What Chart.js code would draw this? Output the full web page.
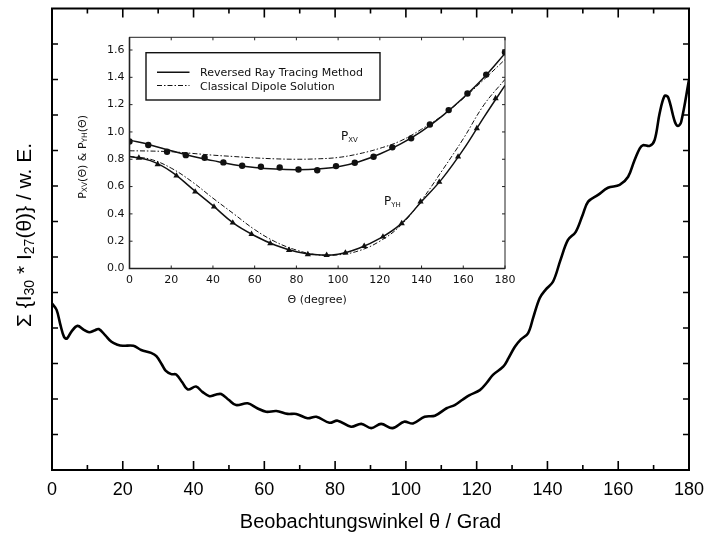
<!DOCTYPE html>
<html><head><meta charset="utf-8">
<script src="https://cdn.jsdelivr.net/npm/chart.js@4.4.0/dist/chart.umd.min.js"></script>
<style>
html,body{margin:0;padding:0;background:#fff;}
#wrap{position:relative;width:704px;height:537px;overflow:hidden;}
canvas{position:absolute;}
#main{left:0;top:0;}
#inset{left:70px;top:30px;}
</style>
</head><body>
<div id="wrap"><canvas id="main" width="704" height="537"></canvas><canvas id="inset" width="460" height="285"></canvas></div>
<script>
// ---------- main chart data ----------
const mainTheta = [0,1.3,2.4,3.4,4.2,5.5,7.2,9,10.5,12,13.2,15,16.8,18.5,20,23,25.2,28,29.5,31,32.1,33.7,35.1,36.8,38.4,40.7,42.5,44.5,46.2,47.8,50,52,55.3,58,60.5,63.4,66.6,69,72.2,74.7,78.4,80.7,84.5,87.4,90.2,93,96.2,99.5,102,105.3,108.2,111.5,113.8,116,118,120.9,122.8,124.6,127.5,129,130.8,132.5,134.5,136,137.8,139.5,141.6,143.7,145.8,148,150,151.5,154.3,157.1,160.4,162.8,164.5,166.1,167,168.9,170.3,171.7,173.1,174.1,176,176.9,177.8,180];
const mainSignal = [4.69,4.51,4.08,3.75,3.70,3.90,4.06,3.95,3.88,3.93,3.97,3.80,3.61,3.53,3.50,3.50,3.38,3.30,3.21,2.98,2.80,2.70,2.69,2.47,2.27,2.35,2.20,2.08,2.12,2.14,1.97,1.83,1.88,1.74,1.64,1.66,1.58,1.58,1.46,1.50,1.33,1.39,1.22,1.30,1.18,1.30,1.18,1.36,1.31,1.50,1.53,1.74,1.83,1.98,2.11,2.25,2.45,2.68,2.91,3.15,3.47,3.68,3.85,4.30,4.84,5.08,5.31,5.92,6.48,6.71,7.20,7.56,7.75,7.95,8.03,8.26,8.70,9.06,9.15,9.13,9.30,10.05,10.54,10.50,9.81,9.69,9.81,10.99];
const mainXTicks = [0,20,40,60,80,100,120,140,160,180];
const mainYTicks = [1,2,3,4,5,6,7,8,9,10,11,12];

// ---------- inset data ----------
const insetTheta = [0,10,20,30,40,50,60,70,80,90,100,110,120,130,140,150,160,170,180];
const pxvRayTracing = [0.94,0.905,0.862,0.822,0.79,0.76,0.74,0.728,0.724,0.728,0.745,0.782,0.838,0.912,1.005,1.118,1.25,1.40,1.575];
const pxvDipole     = [0.862,0.86,0.855,0.843,0.83,0.82,0.81,0.803,0.80,0.803,0.813,0.84,0.88,0.935,1.02,1.12,1.245,1.385,1.53];
const pyhRayTracing = [0.82,0.79,0.71,0.585,0.46,0.33,0.24,0.17,0.123,0.10,0.105,0.148,0.22,0.325,0.49,0.66,0.87,1.11,1.34];
const pyhDipole     = [0.82,0.80,0.735,0.635,0.515,0.40,0.285,0.195,0.135,0.10,0.10,0.13,0.20,0.315,0.50,0.72,0.95,1.20,1.385];
const pxvMarkTheta = [0,9,18,27,36,45,54,63,72,81,90,99,108,117,126,135,144,153,162,171,180];
const pxvMarks = [0.93,0.904,0.855,0.83,0.811,0.777,0.752,0.745,0.74,0.725,0.72,0.75,0.774,0.818,0.887,0.953,1.055,1.16,1.282,1.42,1.583];
const pyhMarkTheta = [4.5,13.5,22.5,31.5,40.5,49.5,58.5,67.5,76.5,85.5,94.5,103.5,112.5,121.5,130.5,139.5,148.5,157.5,166.5,175.5];
const pyhMarks = [0.81,0.762,0.679,0.562,0.452,0.335,0.252,0.183,0.134,0.103,0.098,0.115,0.164,0.232,0.33,0.489,0.633,0.818,1.026,1.246];
const insetXTicks = [0,20,40,60,80,100,120,140,160,180];
const insetYTicks = [0,0.2,0.4,0.6,0.8,1.0,1.2,1.4,1.6];
const legendLabels = ['Reversed Ray Tracing Method','Classical Dipole Solution'];

const pts = (xs, ys) => xs.map((x, i) => ({x: x, y: ys[i]}));

function drawPieces(ctx, pieces, x, y, align) {
  let total = 0;
  pieces.forEach(p => { ctx.font = p[1]; total += ctx.measureText(p[0]).width; });
  let cx = align === 'center' ? x - total / 2 : x;
  pieces.forEach(p => { ctx.font = p[1]; ctx.fillText(p[0], cx, y + p[2]); cx += ctx.measureText(p[0]).width; });
}

// ---------- main chart ----------
const mainDecor = {
  id: 'mainDecor',
  afterDraw(chart) {
    const ctx = chart.ctx, xs = chart.scales.x, ys = chart.scales.y;
    const {left, right, top, bottom} = chart.chartArea;
    ctx.save();
    ctx.strokeStyle = '#000';
    ctx.lineWidth = 1.6;
    ctx.beginPath();
    for (let t = 10; t < 180; t += 10) {
      const x = xs.getPixelForValue(t);
      const len = (t % 20 === 0) ? 9 : 5;
      ctx.moveTo(x, bottom); ctx.lineTo(x, bottom - len);
      ctx.moveTo(x, top); ctx.lineTo(x, top + len);
    }
    mainYTicks.forEach(v => {
      const y = ys.getPixelForValue(v);
      ctx.moveTo(left, y); ctx.lineTo(left + 6, y);
      ctx.moveTo(right, y); ctx.lineTo(right - 6, y);
    });
    ctx.stroke();
    ctx.lineWidth = 2;
    ctx.strokeRect(left, top, right - left, bottom - top);
    ctx.translate(25, 235);
    ctx.rotate(-Math.PI / 2);
    ctx.fillStyle = '#000';
    ctx.textBaseline = 'middle';
    const big = '21px "Liberation Sans", Arial, sans-serif';
    const sub = '14px "Liberation Sans", Arial, sans-serif';
    drawPieces(ctx, [['\u03A3 {I', big, 0], ['30', sub, 5], [' * I', big, 0], ['27', sub, 5], ['(\u03B8)} / w. E.', big, 0]], 0, 0, 'center');
    ctx.restore();
  }
};

new Chart(document.getElementById('main'), {
  type: 'line',
  data: { datasets: [{
    data: pts(mainTheta, mainSignal),
    borderColor: '#000', borderWidth: 2.6, pointRadius: 0, tension: 0.35, fill: false
  }]},
  options: {
    responsive: false, animation: false, devicePixelRatio: 1,
    layout: { padding: { top: 8.5, right: 15, left: 0, bottom: 0 } },
    plugins: { legend: { display: false }, tooltip: { enabled: false } },
    scales: {
      x: {
        type: 'linear', min: 0, max: 180,
        afterBuildTicks: s => { s.ticks = mainXTicks.map(v => ({value: v})); },
        ticks: { color: '#000', font: { family: '"Liberation Sans", Arial, sans-serif', size: 18 }, padding: 9, maxRotation: 0, autoSkip: false },
        grid: { display: false, drawTicks: false },
        border: { display: false },
        title: { display: true, text: 'Beobachtungswinkel \u03B8 / Grad', color: '#000',
                 font: { family: '"Liberation Sans", Arial, sans-serif', size: 20 }, padding: { top: 0, bottom: 3 } },
        afterFit: s => { s.height = 67; s.paddingLeft = 0; s.paddingRight = 0; }
      },
      y: {
        min: 0, max: 13,
        ticks: { display: false },
        grid: { display: false, drawTicks: false },
        border: { display: false },
        afterFit: s => { s.width = 52; s.paddingTop = 0; s.paddingBottom = 0; }
      }
    }
  },
  plugins: [mainDecor]
});

// ---------- inset chart ----------
const insetDecor = {
  id: 'insetDecor',
  afterDraw(chart) {
    const ctx = chart.ctx, xs = chart.scales.x, ys = chart.scales.y;
    const {left, right, top, bottom} = chart.chartArea;
    ctx.save();
    ctx.strokeStyle = '#222';
    ctx.lineWidth = 1;
    ctx.beginPath();
    insetXTicks.forEach(t => {
      const x = xs.getPixelForValue(t);
      ctx.moveTo(x, bottom); ctx.lineTo(x, bottom - 3);
      ctx.moveTo(x, top); ctx.lineTo(x, top + 3);
    });
    insetYTicks.forEach(v => {
      const y = ys.getPixelForValue(v);
      ctx.moveTo(left, y); ctx.lineTo(left + 3, y);
      ctx.moveTo(right, y); ctx.lineTo(right - 3, y);
    });
    ctx.stroke();
    ctx.lineWidth = 1;
    ctx.strokeRect(left, top, right - left, bottom - top);
    ctx.lineWidth = 1.6;
    ctx.beginPath();
    ctx.moveTo(left, top); ctx.lineTo(left, bottom); ctx.lineTo(right, bottom);
    ctx.stroke();

    const lx = 146 - 70, ly = 52.7 - 30, lw = 234, lh = 47.3;
    ctx.fillStyle = '#fff';
    ctx.fillRect(lx, ly, lw, lh);
    ctx.strokeStyle = '#111';
    ctx.lineWidth = 1.4;
    ctx.strokeRect(lx, ly, lw, lh);
    ctx.beginPath();
    ctx.lineWidth = 1.6;
    ctx.moveTo(157 - 70, 72.3 - 30); ctx.lineTo(189.5 - 70, 72.3 - 30);
    ctx.stroke();
    ctx.beginPath();
    ctx.lineWidth = 1;
    ctx.setLineDash([5, 2, 1.5, 2]);
    ctx.moveTo(157 - 70, 85.5 - 30); ctx.lineTo(189.5 - 70, 85.5 - 30);
    ctx.stroke();
    ctx.setLineDash([]);
    ctx.fillStyle = '#111';
    ctx.textBaseline = 'middle';
    ctx.textAlign = 'left';
    ctx.font = '11px "DejaVu Sans", sans-serif';
    ctx.fillText(legendLabels[0], 200 - 70, 73.5 - 30);
    ctx.fillText(legendLabels[1], 200 - 70, 87 - 30);

    const pf = '12px "DejaVu Sans", sans-serif', sf = '7px "DejaVu Sans", sans-serif';
    drawPieces(ctx, [['P', pf, 0], ['XV', sf, 3]], 341 - 70, 136.7 - 30, 'left');
    drawPieces(ctx, [['P', pf, 0], ['YH', sf, 3]], 384 - 70, 201.7 - 30, 'left');

    ctx.translate(83 - 70, (top + bottom) / 2 + 4);
    ctx.rotate(-Math.PI / 2);
    const tf = '11px "DejaVu Sans", sans-serif', tsf = '7.5px "DejaVu Sans", sans-serif';
    drawPieces(ctx, [['P', tf, 0], ['XV', tsf, 2.5], ['(\u0398) & P', tf, 0], ['YH', tsf, 2.5], ['(\u0398)', tf, 0]], 0, 0, 'center');
    ctx.restore();
  }
};

const lineStyle = (data, dashed) => ({
  data: data, borderColor: '#111', borderWidth: dashed ? 1 : 1.5,
  borderDash: dashed ? [5, 2, 1.5, 2] : [], pointRadius: 0, tension: 0.4, fill: false
});

new Chart(document.getElementById('inset'), {
  type: 'line',
  data: { datasets: [
    lineStyle(pts(insetTheta, pxvDipole), true),
    lineStyle(pts(insetTheta, pyhDipole), true),
    lineStyle(pts(insetTheta, pxvRayTracing), false),
    lineStyle(pts(insetTheta, pyhRayTracing), false),
    { data: pts(pxvMarkTheta, pxvMarks), showLine: false, pointStyle: 'circle', pointRadius: 3.2,
      pointBackgroundColor: '#111', pointBorderColor: '#111', pointBorderWidth: 0 },
    { data: pts(pyhMarkTheta, pyhMarks), showLine: false, pointStyle: 'triangle', pointRadius: 3.6,
      pointBackgroundColor: '#111', pointBorderColor: '#111', pointBorderWidth: 0 }
  ]},
  options: {
    responsive: false, animation: false, devicePixelRatio: 1,
    layout: { padding: { top: 7.3, right: 25, left: 0, bottom: 0 } },
    plugins: { legend: { display: false }, tooltip: { enabled: false } },
    scales: {
      x: {
        type: 'linear', min: 0, max: 180,
        afterBuildTicks: s => { s.ticks = insetXTicks.map(v => ({value: v})); },
        ticks: { color: '#111', font: { family: '"DejaVu Sans", sans-serif', size: 11 }, padding: 5, maxRotation: 0, autoSkip: false },
        grid: { display: false, drawTicks: false },
        border: { display: false },
        title: { display: true, text: '\u0398 (degree)', color: '#111',
                 font: { family: '"DejaVu Sans", sans-serif', size: 11 }, padding: { top: 0, bottom: 8 } },
        afterFit: s => { s.height = 46.5; s.paddingLeft = 0; s.paddingRight = 0; }
      },
      y: {
        min: 0, max: 1.693,
        afterBuildTicks: s => { s.ticks = insetYTicks.map(v => ({value: v})); },
        ticks: { color: '#111', font: { family: '"DejaVu Sans", sans-serif', size: 11 }, padding: 5,
                 callback: v => Number(v).toFixed(1) },
        grid: { display: false, drawTicks: false },
        border: { display: false },
        afterFit: s => { s.width = 59.5; s.paddingTop = 0; s.paddingBottom = 0; }
      }
    }
  },
  plugins: [insetDecor]
});
</script>
</body></html>
